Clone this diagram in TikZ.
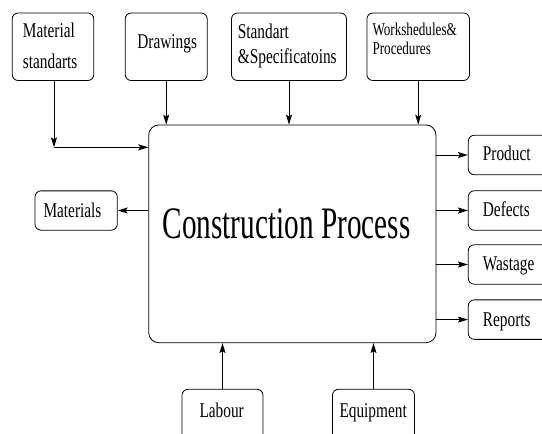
\documentclass[tikz,border=0pt]{standalone}
\usepackage{fontspec}
\setmainfont{Liberation Serif}[FakeStretch=0.73]
\newfontfamily\bigfont{Liberation Serif}[FakeStretch=0.65]
\usetikzlibrary{arrows.meta}
\begin{document}
\begin{tikzpicture}[x=1pt,y=-1pt,
  box/.style={draw=black, line width=0.8pt, rounded corners=6pt, inner sep=0pt},
  txt/.style={inner sep=0pt, anchor=base west, font=\fontsize{21}{31}\selectfont},
  arr/.style={-{Stealth[length=10pt,width=6pt,inset=2pt]}, line width=0.9pt, draw=black}]
\useasboundingbox (0,0) rectangle (542,434);
\clip (0,0) rectangle (542,434);
% top boxes
\node[box, minimum width=81.6pt, minimum height=67.5pt] (ms) at (53,46.75) {};
\node[box, minimum width=82pt, minimum height=67.5pt] (dr) at (166.2,46.75) {};
\node[box, minimum width=115pt, minimum height=67.5pt] (ss) at (289,46.75) {};
\node[box, minimum width=102.6pt, minimum height=67.5pt] (ws) at (418.2,46.75) {};
% main
\node[box, rounded corners=10pt, minimum width=287.3pt, minimum height=217.7pt] (main) at (292.35,233.85) {};
% left
\node[box, minimum width=82.3pt, minimum height=39.3pt] (mat) at (76.15,210.5) {};
% right
\node[box, minimum width=91.7pt, minimum height=39.5pt] (prod) at (514.15,155) {};
\node[box, minimum width=91.7pt, minimum height=39.5pt] (def) at (514.15,210.5) {};
\node[box, minimum width=91.7pt, minimum height=39.5pt] (was) at (514.15,264.5) {};
\node[box, minimum width=91.7pt, minimum height=39.5pt] (rep) at (514.15,319.6) {};
% bottom
\node[box, minimum width=81pt, minimum height=60.7pt] (lab) at (222.5,419.65) {};
\node[box, minimum width=82.1pt, minimum height=60.7pt] (eqp) at (373.5,419.65) {};
% texts
\node[txt] (msT) at (22.7,37.3) {\begin{tabular}[t]{@{}l@{}}Material\\standarts\end{tabular}};
\node[txt] (drT) at (137.2,48) {Drawings};
\node[txt, font=\fontsize{21}{25}\selectfont] (ssT) at (237.7,38.3) {\begin{tabular}[t]{@{}l@{}}Standart\\\&Specificatoins\end{tabular}};
\node[txt, font=\fontsize{18}{19}\selectfont] (wsT) at (372.3,35) {\begin{tabular}[t]{@{}l@{}}Workshedules\&\\Procedures\end{tabular}};
\node[txt] (matT) at (43.3,217.3) {Materials};
\node[txt] (prodT) at (482.7,160.5) {Product};
\node[txt] (defT) at (482.7,216.7) {Defects};
\node[txt] (wasT) at (482.7,270) {Wastage};
\node[txt] (repT) at (482.7,326) {Reports};
\node[txt] (labT) at (199.3,417.3) {Labour};
\node[txt] (eqpT) at (339.3,417.3) {Equipment};
\node[txt, font=\bigfont\fontsize{45}{50}\selectfont] (mainT) at (162.5,238.3) {Construction Process};
% connectors
\coordinate (c1) at (54,147.3);
\draw[arr] (ms.south -| c1) -- (c1);
\draw[arr] (c1) -- (c1 -| main.west);
\draw[arr] (dr.south) -- (dr.south |- main.north);
\draw[arr] (ss.south) -- (ss.south |- main.north);
\draw[arr] (ws.south) -- (ws.south |- main.north);
\draw[arr] (main.west |- mat.east) -- (mat.east);
\draw[arr] (main.east |- prod.west) -- (prod.west);
\draw[arr] (main.east |- def.west) -- (def.west);
\draw[arr] (main.east |- was.west) -- (was.west);
\draw[arr] (main.east |- rep.west) -- (rep.west);
\draw[arr] (lab.north) -- (lab.north |- main.south);
\draw[arr] (eqp.north) -- (eqp.north |- main.south);
\end{tikzpicture}
\end{document}
